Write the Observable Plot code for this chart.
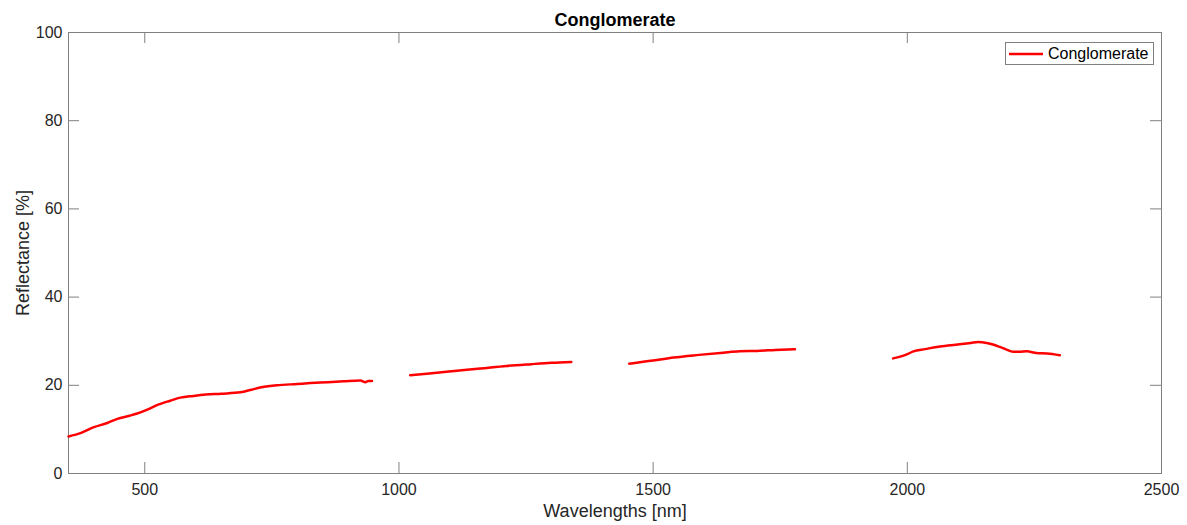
<!DOCTYPE html>
<html>
<head>
<meta charset="utf-8">
<script src="https://cdn.jsdelivr.net/npm/d3@7"></script>
<script src="https://cdn.jsdelivr.net/npm/@observablehq/plot@0.6"></script>
<style>
  html, body { margin: 0; padding: 0; background: #fff; }
  #wrap { position: relative; width: 1187px; height: 525px; font-family: 'Liberation Sans', Arial, sans-serif; }
  #legend { position: absolute; left: 1005px; top: 42px; width: 149px; height: 23px; border: 1px solid #808080; background: #fff; box-sizing: border-box; display: flex; align-items: center; font-size: 16px; color: #000; }
  #legend svg { margin-left: 2px; margin-right: 4px; }
</style>
</head>
<body>
<div id="wrap"><div id="legend"><svg width="36" height="6"><line x1="1" x2="35" y1="3" y2="3" stroke="#ff0000" stroke-width="2.5"/></svg><span id="legtext"></span></div></div>
<script>
const title = "Conglomerate";
const seriesName = "Conglomerate";
const xLabel = "Wavelengths [nm]";
const yLabel = "Reflectance [%]";
const xTicks = [500, 1000, 1500, 2000, 2500];
const yTicks = [0, 20, 40, 60, 80, 100];
// null separates the measured segments (absorption band gaps)
const wavelengths = [350,375,400,425,446,470,485,505,524,550,570,596,620,650,688,710,727,760,800,826,860,891,924,934,940,947,
  null,
  1022,1060,1114,1160,1212,1260,1300,1339,
  null,
  1453,1500,1540,1590,1638,1670,1704,1740,1779,
  null,
  1972,1999,2012,2035,2058,2080,2103,2125,2139,2156,2170,2182,2195,2208,2220,2235,2254,2275,2300];
const reflectance = [8.4,9.2,10.5,11.4,12.4,13.1,13.6,14.5,15.5,16.5,17.2,17.6,17.9,18.1,18.4,19.0,19.5,20.0,20.3,20.5,20.7,20.9,21.1,20.7,21.0,21.0,
  null,
  22.3,22.7,23.3,23.8,24.4,24.8,25.1,25.3,
  null,
  24.9,25.6,26.3,26.9,27.4,27.7,27.8,28.0,28.2,
  null,
  26.1,27.0,27.7,28.2,28.7,29.0,29.3,29.6,29.8,29.6,29.2,28.7,28.1,27.6,27.6,27.7,27.3,27.2,26.8];

const data = wavelengths.map((w, i) => ({w, r: reflectance[i]}));
document.getElementById("legtext").textContent = seriesName;

const W = 1187, H = 525, mt = 32, mb = 52, ml = 68, mr = 26;
const ph = H - mt - mb, pw = W - ml - mr, tl = 11;
const axisColor = "#808080";

const chart = Plot.plot({
  width: W, height: H,
  marginTop: mt, marginBottom: mb, marginLeft: ml, marginRight: mr,
  style: {fontFamily: "'Liberation Sans', Arial, sans-serif", fontSize: "16px", color: "#262626", background: "#fff"},
  x: {domain: [350, 2500]},
  y: {domain: [0, 100]},
  marks: [
    Plot.frame({stroke: axisColor}),
    Plot.tickX(xTicks, {x: d => d, insetTop: ph - tl, stroke: axisColor}),
    Plot.tickX(xTicks, {x: d => d, insetBottom: ph - tl, stroke: axisColor}),
    Plot.tickY(yTicks, {y: d => d, insetRight: pw - tl, stroke: axisColor}),
    Plot.tickY(yTicks, {y: d => d, insetLeft: pw - tl, stroke: axisColor}),
    Plot.axisX(xTicks, {tickSize: 0, tickPadding: 10, label: null, fontSize: 16, tickFormat: d => String(d)}),
    Plot.axisY(yTicks, {tickSize: 0, tickPadding: 6, label: null, fontSize: 16, tickFormat: d => String(d)}),
    Plot.line(data, {x: "w", y: "r", stroke: "#ff0000", strokeWidth: 2.5, curve: "monotone-x", defined: d => d.w != null && d.r != null}),
    Plot.text([title], {frameAnchor: "top", lineAnchor: "middle", textAnchor: "middle", dy: -12, fontWeight: "bold", fontSize: 18, fill: "#000"}),
    Plot.text([xLabel], {frameAnchor: "bottom", lineAnchor: "middle", textAnchor: "middle", dy: 38, fontSize: 18, fill: "#262626"}),
    Plot.text([yLabel], {frameAnchor: "left", lineAnchor: "middle", textAnchor: "middle", dx: -45, rotate: -90, fontSize: 18, fill: "#262626"})
  ]
});
document.getElementById("wrap").prepend(chart);
</script>
</body>
</html>
